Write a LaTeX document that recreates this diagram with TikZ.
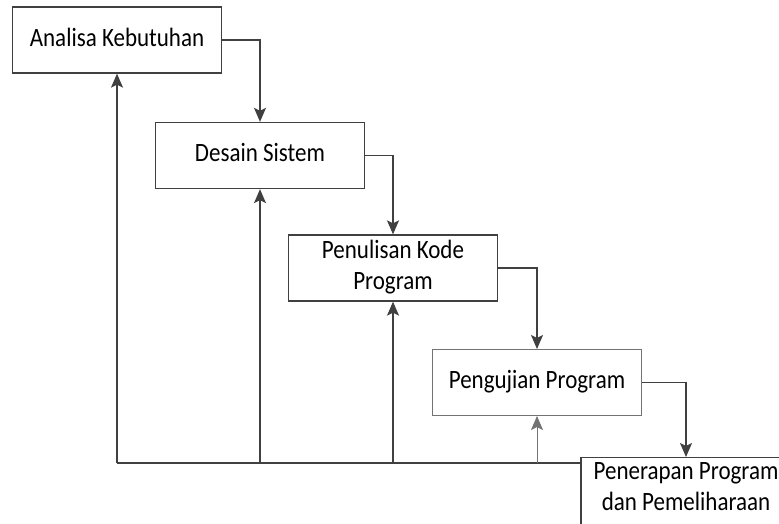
\documentclass[tikz,border=0pt]{standalone}
\usepackage{fontspec}
\setmainfont{Carlito}
\usetikzlibrary{arrows.meta}
\newcommand{\vtxt}[1]{\scalebox{1}[1.15]{\begin{tabular}{@{}c@{}}#1\end{tabular}}}
\begin{document}
\begin{tikzpicture}[x=1pt,y=-1pt,
  box/.style={draw=black!75, line width=1.3pt, minimum width=209pt, minimum height=66pt, inner sep=0pt, fill=white, font=\fontsize{23}{27}\selectfont},
  conn/.style={draw=black!75, line width=1.3pt, -{Stealth[length=14pt,width=12pt,inset=3pt]}},
  wire/.style={draw=black!75, line width=1.3pt},
  light/.style={draw=black!55, line width=1pt}]
\useasboundingbox (0,0) rectangle (779,523);
\clip (0,0) rectangle (779,523);
\node[box] (b1) at (117,40) {\vtxt{Analisa Kebutuhan}};
\node[box] (b2) at (260,155.5) {\vtxt{Desain Sistem}};
\node[box] (b3) at (393,268) {\vtxt{Penulisan Kode\\Program}};
\node[box, light] (b4) at (537,382.5) {\vtxt{Pengujian Program}};
\node[box, minimum width=219pt, anchor=north, text height=38pt, text depth=60pt] (b5) at (690.5,457) {\vtxt{Penerapan Program\\dan Pemeliharaan}\hspace*{9pt}};
\coordinate (j) at (581,463);
\draw[conn] (b1.east) -| (b2.north);
\draw[conn] (b2.east) -| (b3.north);
\draw[conn] (b3.east) -| (b4.north);
\draw[conn] (b4.east) -| ([xshift=-4.5pt]b5.north);
\draw[wire] (j) -- (b1.south |- j);
\draw[conn] (b1.south |- j) -- (b1.south);
\draw[conn] (b2.south |- j) -- (b2.south);
\draw[conn] (b3.south |- j) -- (b3.south);
\draw[conn, light] (b4.south |- j) -- (b4.south);
\end{tikzpicture}
\end{document}
